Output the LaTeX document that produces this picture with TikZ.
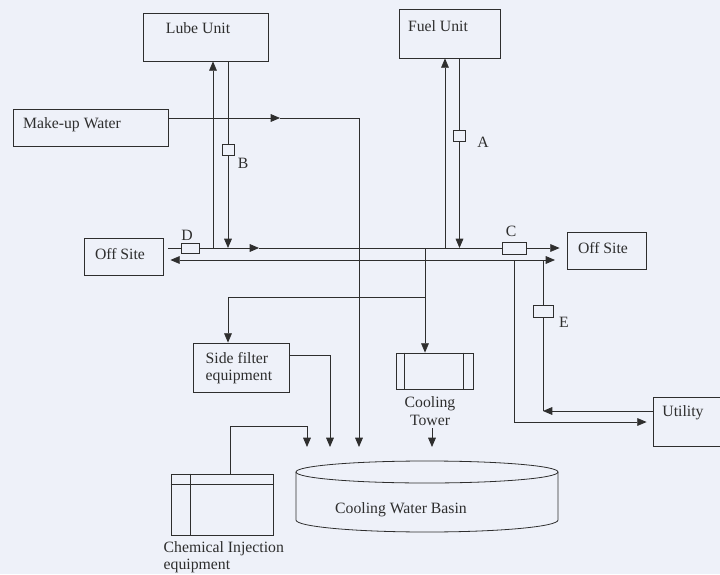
\documentclass[tikz,border=0pt]{standalone}
\usepackage{fontspec}
\setmainfont{Liberation Serif}
\usetikzlibrary{arrows.meta, positioning, fit}
\definecolor{scanBg}{HTML}{EEF1F9}
\definecolor{inkGray}{HTML}{2E2E2E}

\begin{document}
\begin{tikzpicture}[x=0.75pt, y=-0.75pt,
    every node/.style={font=\fontsize{11.8}{13}\selectfont, text=inkGray},
    unit/.style={draw=inkGray, line width=0.6pt, inner sep=0pt, fit={#1}},
    valve/.style={draw=inkGray, line width=0.6pt, inner sep=0pt, fit={#1}},
    pipe/.style={draw=inkGray, line width=0.6pt},
    flow/.style={pipe, -{Triangle[length=7pt, width=5.8pt]}}]
  \useasboundingbox[fill=scanBg] (0,0) rectangle (720,574);

  % units
  \node[unit={(143,13) (268,61)}]   (lube)   {};
  \node[unit={(399,9) (500,58)}]    (fuel)   {};
  \node[unit={(13,109) (168,146)}]  (makeup) {};
  \node[unit={(84,238) (163,275)}]  (offL)   {};
  \node[unit={(567,232) (646,269)}] (offR)   {};
  \node[unit={(653,397) (724,446)}] (util)   {};
  \node[unit={(193,343) (289,392)}] (side)   {};
  \node[unit={(396,353) (473,389)}] (tower)  {};
  \node[unit={(171,474) (273,535)}] (chem)   {};
  \node[inner sep=0pt, fit={(296,461) (558,532)}] (basin) {};

  \node (lubeT)   at (198,28)  {Lube Unit};
  \node (fuelT)   at (438,26)  {Fuel Unit};
  \node (makeupT) at (72,125)  {Make-up Water};
  \node (offLT)   at (120,254) {Off Site};
  \node (offRT)   at (603,248) {Off Site};
  \node (utilT)   at (683,413) {Utility};
  \node[anchor=west, align=left] (sideT) at (201,368) {Side filter\\equipment};
  \node[align=center] (towerT) at (430,411) {Cooling\\Tower};
  \node (basinT)  at (401,510) {Cooling Water Basin};
  \node[anchor=west, align=left] (chemT) at (159,557) {Chemical Injection\\equipment};

  % valves
  \node[valve={(222,144) (234,155)}]     (vB) {};
  \node[valve={(453.5,130) (465.5,141)}] (vA) {};
  \node[valve={(181,243) (199,253)}]     (vD) {};
  \node[valve={(502,242) (526,254)}]     (vC) {};
  \node[valve={(533,305) (553,317)}]     (vE) {};
  \node (labB) at (243,163) {B};
  \node (labA) at (483,142) {A};
  \node (labC) at (511,231) {C};
  \node (labD) at (187,235) {D};
  \node (labE) at (564,322) {E};

  % junctions and bends
  \coordinate (jLubeUp) at (213,248);
  \coordinate (jLubeDn) at (228,248);
  \coordinate (jFuelUp) at (445,248);
  \coordinate (jFuelDn) at (459.5,248);
  \coordinate (stubD)   at (168,248);
  \coordinate (midU)    at (259,248);
  \coordinate (cornerE) at (543,260);
  \coordinate (tipE)    at (555,260);
  \coordinate (retE)    at (543,411);
  \coordinate (jUtil)   at (514,260);
  \coordinate (bendU)   at (514,422);
  \coordinate (midM)    at (280,118);
  \coordinate (bendM)   at (359,118);
  \coordinate (inM)     at (359,447);
  \coordinate (jTower)  at (425,248);
  \coordinate (jSide)   at (425,297);
  \coordinate (bendS)   at (228,297);
  \coordinate (bendF)   at (330,355);
  \coordinate (inF)     at (330,447);
  \coordinate (bendC)   at (230,426);
  \coordinate (bendC2)  at (307,426);
  \coordinate (inC)     at (307,447);
  \coordinate (towerOut) at (432,428);
  \coordinate (inT)     at (432,447);

  % lube and fuel loops
  \draw[flow] (jLubeUp) -- (jLubeUp |- lube.south);
  \draw[pipe] (lube.south -| vB.north) -- (vB.north);
  \draw[flow] (vB.south) -- (jLubeDn);
  \draw[flow] (jFuelUp) -- (jFuelUp |- fuel.south);
  \draw[pipe] (fuel.south -| vA.north) -- (vA.north);
  \draw[flow] (vA.south) -- (jFuelDn);

  % header lines
  \draw[pipe] (stubD) -- (vD.west);
  \draw[flow] (vD.east) -- (midU);
  \draw[pipe] (midU) -- (vC.west);
  \draw[flow, shorten >=5.25pt] (vC.east) -- (offR.west |- vC.east);
  \draw[flow, shorten >=5.25pt] (cornerE) -- (cornerE -| offL.east);
  \draw[flow] (cornerE) -- (tipE);

  % utility
  \draw[flow] (util.west |- retE) -- (retE);
  \draw[pipe] (retE) -- (vE.south);
  \draw[pipe] (vE.north) -- (cornerE);
  \draw[flow, shorten >=4.5pt] (jUtil) -- (bendU) -- (bendU -| util.west);

  % make-up water
  \draw[flow] (makeup.east |- midM) -- (midM);
  \draw[flow] (midM) -- (bendM) -- (inM);

  % tower and side filter
  \draw[flow] (jTower) -- (jTower |- tower.north);
  \draw[flow] (jSide) -- (bendS) -- (bendS |- side.north);
  \draw[flow] (side.east |- bendF) -- (bendF) -- (inF);
  \draw[flow] (bendC |- chem.north) -- (bendC) -- (bendC2) -- (inC);
  \draw[flow] (towerOut) -- (inT);

  % details
  \draw[pipe] (tower.north west) ++(9,0) -- ++(0,36);
  \draw[pipe] (tower.north east) ++(-10,0) -- ++(0,36);
  \draw[pipe] (chem.north west) ++(0,11) -- ++(102,0);
  \draw[pipe] (chem.north west) ++(20,0) -- ++(0,61);
  \draw[pipe] (427,472) ellipse [x radius=131, y radius=11];
  \draw[pipe] (296,472) -- (296,520)
    arc[start angle=180, end angle=0, x radius=131, y radius=12] -- (558,472);
\end{tikzpicture}
\end{document}
